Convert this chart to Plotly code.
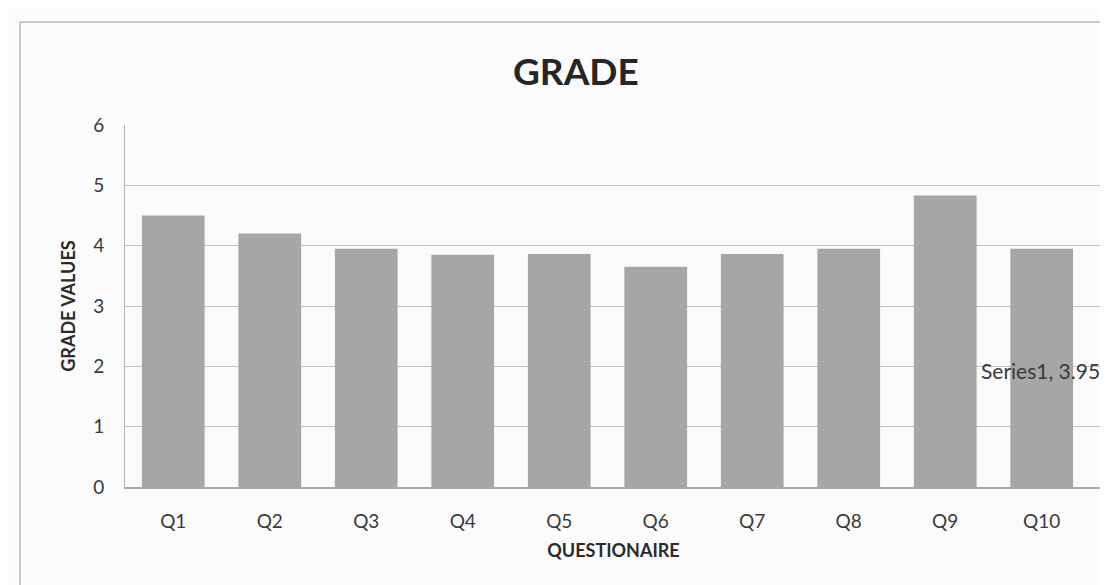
import plotly.graph_objects as go

categories = ["Q1", "Q2", "Q3", "Q4", "Q5", "Q6", "Q7", "Q8", "Q9", "Q10"]
values = [4.5, 4.2, 3.95, 3.85, 3.86, 3.65, 3.86, 3.95, 4.83, 3.95]
y_ticks = [0, 1, 2, 3, 4, 5, 6]
series_name = "Series1"

W, H = 1108, 585
L, R, T, B = 117, 14, 117, 106

fig = go.Figure()
fig.add_trace(go.Bar(
    x=categories, y=values, name=series_name,
    marker=dict(color="#a6a6a6", line=dict(width=0)),
    showlegend=False,
))

FONT = "Lato, 'Open Sans', sans-serif"

fig.update_layout(
    width=W, height=H,
    margin=dict(l=L, r=R, t=T, b=B),
    paper_bgcolor="#fbfbfc",
    plot_bgcolor="#fbfbfc",
    bargap=0.35,
    font=dict(family=FONT, color="#3a3a3a", size=19),
    xaxis=dict(
        showgrid=False,
        showline=True, linecolor="#a9a9a9", linewidth=1.5,
        ticks="", tickfont=dict(size=19, color="#3a3a3a"),
        ticklabelstandoff=16,
        title=dict(text="<b>QUESTIONAIRE</b>", font=dict(size=18, color="#2a2a2a"), standoff=14),
    ),
    yaxis=dict(
        range=[0, 6], tickvals=y_ticks,
        showgrid=True, gridcolor="#bfc0c6", gridwidth=1.2,
        showline=True, linecolor="#b5b5b5", linewidth=1,
        zeroline=False,
        ticks="", tickfont=dict(size=19, color="#3a3a3a"),
        ticklabelstandoff=16,
        title=dict(text="<b>GRADE VALUES</b>", font=dict(size=18, color="#2a2a2a"), standoff=12),
    ),
)

# chart title
fig.add_annotation(
    text="<b>GRADE</b>", xref="paper", yref="paper",
    x=(568 - L) / (W - L - R), y=1 + (T - 62) / (H - T - B),
    xanchor="center", yanchor="middle", showarrow=False,
    font=dict(size=37, family=FONT, color="#262626"),
)

# detached data label
fig.add_annotation(
    text=f"{series_name}, {values[-1]}", x=8.35, y=1.93,
    xref="x", yref="y", xanchor="left", yanchor="middle", showarrow=False,
    font=dict(size=21, family=FONT, color="#3a3a3a"),
)

# outer frame (top and left edges visible in the scan)
fig.add_shape(type="line", xref="paper", yref="paper",
              x0=(12 - L) / (W - L - R), x1=1 + R / (W - L - R),
              y0=1 + (T - 14) / (H - T - B), y1=1 + (T - 14) / (H - T - B),
              line=dict(color="#b8b8be", width=1.5))
fig.add_shape(type="line", xref="paper", yref="paper",
              x0=(12 - L) / (W - L - R), x1=(12 - L) / (W - L - R),
              y0=-B / (H - T - B), y1=1 + (T - 14) / (H - T - B),
              line=dict(color="#b8b8be", width=1.5))

fig.write_html("out.html")
